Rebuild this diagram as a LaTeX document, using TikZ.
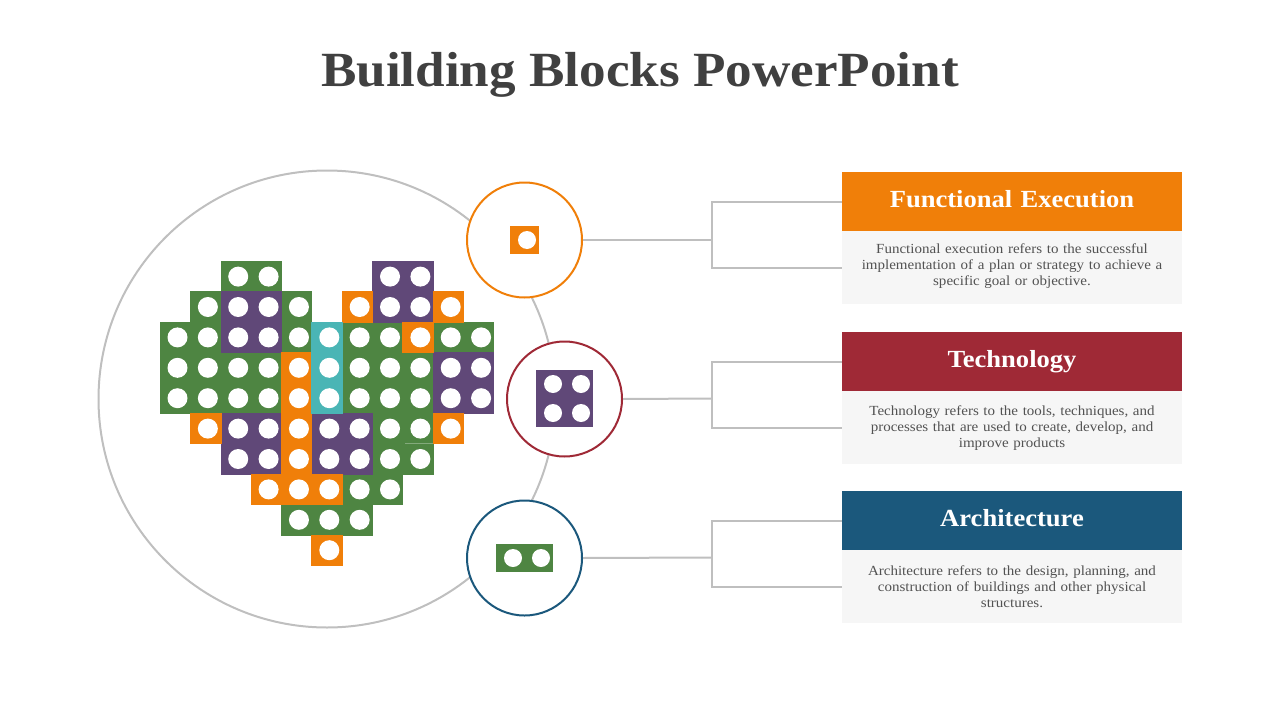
\documentclass[tikz,border=0pt]{standalone}
\usepackage{fontspec}
\setmainfont{Liberation Serif}[FakeStretch=1.08]

\definecolor{blockorange}{HTML}{F07F09}
\definecolor{blockgreen}{HTML}{4E8542}
\definecolor{blockpurple}{HTML}{604878}
\definecolor{blockteal}{HTML}{4AB5B5}
\definecolor{blockred}{HTML}{9F2936}
\definecolor{blockblue}{HTML}{1B587C}
\definecolor{linegray}{HTML}{BFBFBF}
\definecolor{panelgray}{HTML}{F6F6F6}

\tikzset{
    brick/.style={fill=#1, draw=#1, line width=0.2pt},
    stud/.style={fill=white, circle, inner sep=0pt, minimum size=#1},
    link/.style={draw=linegray, line width=2pt},
    badge/.style={draw=#1, fill=white, circle, line width=2pt, inner sep=0pt, minimum size=115},
    head/.style={fill=#1, text=white, text width=340, text centered, inner sep=0pt, minimum height=59, text height=17, text depth=6, font=\fontsize{24.6}{30}\selectfont\bfseries},
    panel/.style={fill=panelgray, inner sep=0pt, minimum width=340, minimum height=73},
    blurb/.style={text=black!68, text width=340, align=center, inner sep=0pt, font=\fontsize{13.9}{16}\selectfont},
}

\begin{document}
\begin{tikzpicture}[x=1pt, y=-1pt]
    \useasboundingbox (0,0) rectangle (1280,720);

    \node[text=black!75, font=\fontsize{49.2}{60}\selectfont\bfseries] (title) at (640,75) {Building Blocks PowerPoint};

    \node[draw=linegray, circle, line width=2pt, inner sep=0pt, minimum size=457] (bigcircle) at (327,399) {};

    % heart: column/row of each brick
    \foreach \tone/\cells in {
        blockgreen/{2/0,3/0,1/1,4/1,0/2,1/2,4/2,6/2,7/2,9/2,10/2,0/3,1/3,2/3,3/3,6/3,7/3,8/3,0/4,1/4,2/4,3/4,6/4,7/4,8/4,7/5,8/5,7/6,8/6,6/7,7/7,4/8,5/8,6/8},
        blockpurple/{7/0,8/0,2/1,3/1,7/1,8/1,2/2,3/2,9/3,10/3,9/4,10/4,2/5,3/5,5/5,6/5,2/6,3/6,5/6,6/6},
        blockorange/{6/1,9/1,8/2,4/3,4/4,1/5,4/5,9/5,4/6,3/7,4/7,5/7,5/9},
        blockteal/{5/2,5/3,5/4}} {
        \foreach \cl/\rw in \cells {
            \path[brick=\tone] ({160+30.3*\cl},{261+30.4*\rw}) rectangle +(30.3,30.4);
            \fill[white] ({177.5+30.36*\cl},{276.6+30.4*\rw}) circle (10);
        }
    }
    \draw[blockgreen!70!white, line width=0.5pt] (405,443) -- (433,443);

    \node[badge=blockorange] (badgefunctional) at (524.5,240) {};
    \node[badge=blockred] (badgetechnology) at (564.5,399) {};
    \node[badge=blockblue] (badgearchitecture) at (524.5,558) {};

    \node[fill=blockorange, inner sep=0pt, minimum width=29, minimum height=28] (iconfunctional) at (524.5,240) {};
    \node[stud=18] (studa) at (527,240) {};

    \node[fill=blockpurple, inner sep=0pt, minimum width=57, minimum height=57] (icontechnology) at (564.5,398.5) {};
    \node[stud=18] (studb) at (553,384) {};
    \node[stud=18] (studc) at (581,384) {};
    \node[stud=18] (studd) at (553,413) {};
    \node[stud=18] (stude) at (581,413) {};

    \node[fill=blockgreen, inner sep=0pt, minimum width=57, minimum height=28] (iconarchitecture) at (524.5,558) {};
    \node[stud=18] (studf) at (513,558) {};
    \node[stud=18] (studg) at (541,558) {};

    \node[head=blockorange] (headfunctional) at (1012,201.5) {Functional Execution};
    \node[panel] (panelfunctional) at (1012,267.5) {};
    \node[blurb] (blurbfunctional) at (1012,266) {Functional execution refers to the successful\\ implementation of a plan or strategy to achieve a\\ specific goal or objective.};

    \node[head=blockred] (headtechnology) at (1012,361.5) {Technology};
    \node[panel] (paneltechnology) at (1012,427.5) {};
    \node[blurb] (blurbtechnology) at (1012,428) {Technology refers to the tools, techniques, and\\ processes that are used to create, develop, and\\ improve products};

    \node[head=blockblue] (headarchitecture) at (1012,520.5) {Architecture};
    \node[panel] (panelarchitecture) at (1012,586.5) {};
    \node[blurb] (blurbarchitecture) at (1012,587) {Architecture refers to the design, planning, and\\ construction of buildings and other physical\\ structures.};

    \coordinate (forkfunctional) at (712,240);
    \coordinate (forktechnology) at (712,398.5);
    \coordinate (forkarchitecture) at (712,557.5);

    \draw[link] (badgefunctional.east) -- (forkfunctional);
    \draw[link] (headfunctional.west) -| (forkfunctional) |- (panelfunctional.west);

    \draw[link] (badgetechnology.east) -- (forktechnology);
    \draw[link] (headtechnology.west) -| (forktechnology) |- (paneltechnology.west);

    \draw[link] (badgearchitecture.east) -- (forkarchitecture);
    \draw[link] (headarchitecture.west) -| (forkarchitecture) |- (panelarchitecture.west);
\end{tikzpicture}
\end{document}
